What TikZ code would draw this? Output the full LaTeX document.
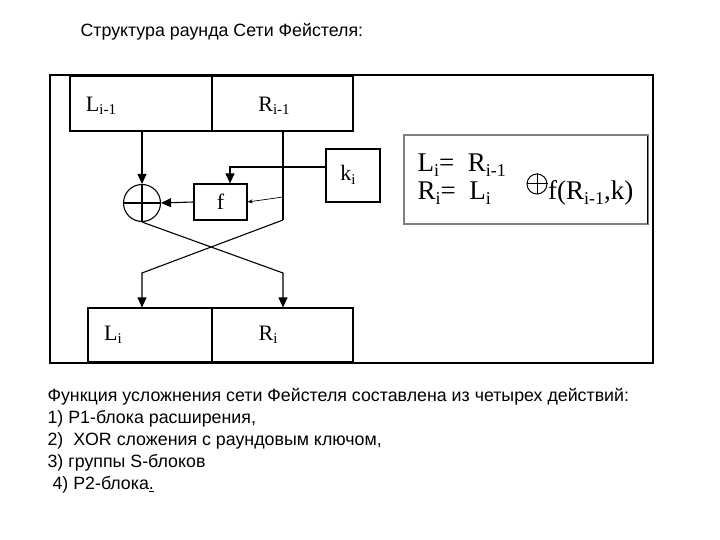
\documentclass[tikz,border=0pt]{standalone}
\usepackage{fontspec}
\setmainfont{Liberation Sans}
\newfontfamily\serf{Liberation Serif}
\usetikzlibrary{arrows.meta}
\newcommand{\dsub}[2]{#1\raisebox{-0.35ex}{\fontsize{15}{17}\selectfont #2}}
\newcommand{\fsub}[2]{#1\raisebox{-0.35ex}{\fontsize{18}{20}\selectfont #2}}
\begin{document}
\begin{tikzpicture}[x=1pt,y=-1pt,line width=1.1pt,
  arr/.style={-{Triangle[length=10pt,width=9pt]}},
  thinarr/.style={line width=0.7pt,-{Stealth[length=5pt,width=4pt]}},
  blk/.style={draw,line width=1.2pt,inner sep=0pt,font=\serf\fontsize{22}{26}\selectfont},
  lab/.style={inner sep=0pt,font=\serf\fontsize{22}{26}\selectfont},
  txt/.style={inner sep=0pt,anchor=west,font=\fontsize{17.8}{21}\selectfont}]
\useasboundingbox (0,0) rectangle (720,540);
% title
\node[txt] (title) at (80,32) {Структура раунда Сети Фейстеля:};
% outer frame
\draw[line width=1.3pt] (50,75) rectangle (653,363);
% top blocks
\node[blk,minimum width=142pt,minimum height=55pt] (L0) at (141,103.5) {};
\node[blk,minimum width=141pt,minimum height=55pt] (R0) at (282.5,103.5) {};
\draw[line width=3pt] (70,76) -- (353,76);
\node[lab] (L0t) at (101,106) {\dsub{L}{i-1}};
\node[lab] (R0t) at (274,106) {\dsub{R}{i-1}};
% xor
\node[draw,circle,minimum size=37pt,inner sep=0pt,line width=1.1pt] (X) at (142,203) {};
\draw[line width=1.1pt] (X.north) -- (X.south) (X.west) -- (X.east);
% f and k
\node[blk,minimum width=53pt,minimum height=36pt] (F) at (220.5,202) {f};
\node[blk,minimum width=54pt,minimum height=53pt] (K) at (353,175.5) {};
\node[lab] (Kt) at (348,175) {\dsub{k}{i}};
% bottom blocks
\node[blk,minimum width=124pt,minimum height=54pt] (L1) at (150,335) {};
\node[blk,minimum width=141pt,minimum height=54pt] (R1) at (282.5,335) {};
\node[lab] (L1t) at (113,335) {\dsub{L}{i}};
\node[lab] (R1t) at (268,335) {\dsub{R}{i}};
% coordinates
\coordinate (Ltop) at (142,131);
\coordinate (Rtop) at (283,131);
\coordinate (Rbot) at (283,220);
\coordinate (Rtap) at (283,197);
\coordinate (Kbend) at (230,167);
\coordinate (CL) at (142,273);
\coordinate (CR) at (283,273);
% connectors
\draw[arr] (Ltop) -- (X.north);
\draw (Rtop) -- (Rbot);
\draw[arr] (F.west) -- (X.east);
\draw[arr] (K.west |- Kbend) -- (Kbend) -- (Kbend |- F.north);
\draw[thinarr] (Rtap) -- (F.east);
\draw[arr] (X.south) -- (CR) -- (CR |- R1.north);
\draw[arr] (Rbot) -- (CL) -- (CL |- L1.north);
% formula box
\node[draw=gray,line width=1.2pt,minimum width=244pt,minimum height=89pt,inner sep=0pt] (FB) at (526,179.5) {};
\draw[line width=1.5pt] (647.5,136) -- (647.5,224);
\node[inner sep=0pt,anchor=base west,font=\serf\fontsize{27}{30}\selectfont] (F1) at (417,172) {\fsub{L}{i}= \ \fsub{R}{i-1}};
\node[inner sep=0pt,anchor=base west,font=\serf\fontsize{27}{30}\selectfont] (F2a) at (417,200) {\fsub{R}{i}= \ \fsub{L}{i}};
\node[draw,circle,minimum size=20pt,inner sep=0pt,line width=1pt] (FX) at (537,184) {};
\draw[line width=1pt] (FX.north) -- (FX.south) (FX.west) -- (FX.east);
\node[inner sep=0pt,anchor=base west,font=\serf\fontsize{27}{30}\selectfont] (F2b) at (547.5,200) {f(\fsub{R}{i-1},k)};
% bottom text
\node[txt] (t1) at (47,397) {Функция усложнения сети Фейстеля составлена из четырех действий:};
\node[txt] (t2) at (47,419) {1) P1-блока расширения,};
\node[txt] (t3) at (47,441) {2) \ XOR сложения с раундовым ключом,};
\node[txt] (t4) at (47,463) {3) группы S-блоков};
\node[txt] (t5) at (52,485) {4) P2-блока\underline{.}};
\end{tikzpicture}
\end{document}
